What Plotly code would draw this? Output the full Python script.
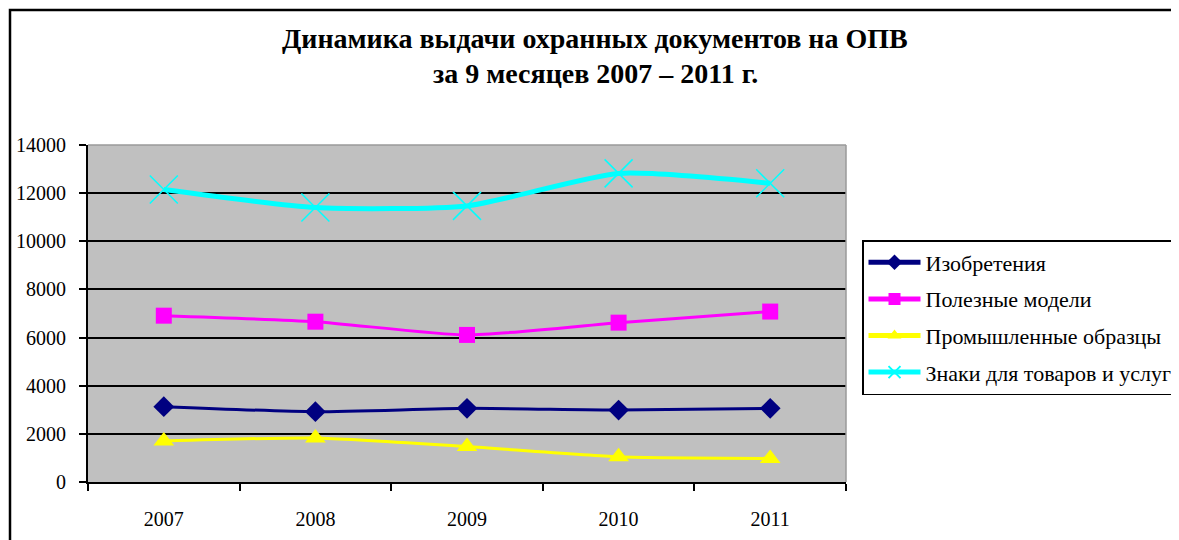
import plotly.graph_objects as go

years = ["2007", "2008", "2009", "2010", "2011"]
inventions = [3130, 2920, 3060, 2990, 3060]
utility_models = [6910, 6660, 6110, 6620, 7080]
industrial_designs = [1700, 1830, 1470, 1050, 980]
trademarks = [12150, 11400, 11470, 12820, 12410]

series_names = ["Изобретения", "Полезные модели", "Промышленные образцы", "Знаки для товаров и услуг"]
y_ticks = [0, 2000, 4000, 6000, 8000, 10000, 12000, 14000]

SERIF = "Liberation Serif, Times New Roman, serif"

fig = go.Figure()
fig.add_trace(go.Scatter(x=years, y=inventions, name=series_names[0], mode="lines+markers", legendgroup="g1",
                         line=dict(color="#000080", width=3, shape="spline", smoothing=0.6),
                         marker=dict(symbol="diamond", size=16, color="#000080")))
fig.add_trace(go.Scatter(x=years, y=utility_models, name=series_names[1], mode="lines+markers", legendgroup="g2",
                         line=dict(color="#FF00FF", width=3, shape="spline", smoothing=0.6),
                         marker=dict(symbol="square", size=16, color="#FF00FF")))
fig.add_trace(go.Scatter(x=years, y=industrial_designs, name=series_names[2], mode="lines+markers", legendgroup="g3",
                         line=dict(color="#FFFF00", width=3, shape="spline", smoothing=0.6),
                         marker=dict(symbol="triangle-up", size=18, color="#FFFF00")))
fig.add_trace(go.Scatter(x=years, y=trademarks, name=series_names[3], mode="lines+markers", legendgroup="g4",
                         line=dict(color="#00FFFF", width=5, shape="spline", smoothing=0.6),
                         marker=dict(symbol="x-thin-open", size=28, color="#00FFFF",
                                     line=dict(color="#00FFFF", width=1.5))))

# page body has an 8px margin, so work in page pixels minus 8
OFF = 8
W, H = 1179 - OFF, 540 - OFF
L, R, T, B = 88 - OFF, 846 - OFF, 145 - OFF, 482 - OFF
pw, ph = R - L, B - T

def px_x(x):
    return (x - OFF - L) / pw

def px_y(y):
    return (B - (y - OFF)) / ph

fig.update_layout(
    width=W, height=H,
    margin=dict(l=L, r=W - R, t=T, b=H - B, pad=0, autoexpand=False),
    paper_bgcolor="white",
    plot_bgcolor="#C0C0C0",
    font=dict(family=SERIF, size=20, color="black"),
    showlegend=True,
    legend=dict(x=px_x(862), y=px_y(240), xanchor="left", yanchor="top",
                bordercolor="black", borderwidth=1.5, bgcolor="white",
                font=dict(family=SERIF, size=22, color="black"),
                tracegroupgap=5, itemsizing="constant", itemwidth=52),
    xaxis=dict(type="category", showgrid=False, showline=True, linecolor="black", linewidth=2,
               ticks="outside", ticklen=7, tickwidth=1.5, tickcolor="black", tickson="boundaries",
               ticklabelstandoff=18, tickfont=dict(family=SERIF, size=20), zeroline=False,
               mirror=False, range=[-0.5, 4.5], automargin=False),
    yaxis=dict(range=[0, 14000], tickvals=y_ticks, ticktext=[str(v) for v in y_ticks],
               showgrid=True, gridcolor="black", gridwidth=1.5, showline=True, linecolor="black",
               linewidth=2, ticks="outside", ticklen=7, tickwidth=1.5, tickcolor="black",
               ticklabelstandoff=9, tickfont=dict(family=SERIF, size=20), zeroline=False,
               automargin=False),
    annotations=[
        dict(text="<b>Динамика выдачи охранных документов на ОПВ</b>", x=px_x(595), y=px_y(38),
             xref="paper", yref="paper", showarrow=False, xanchor="center", yanchor="middle",
             font=dict(family=SERIF, size=28, color="black")),
        dict(text="<b>за 9 месяцев 2007 – 2011 г.</b>", x=px_x(595), y=px_y(74),
             xref="paper", yref="paper", showarrow=False, xanchor="center", yanchor="middle",
             font=dict(family=SERIF, size=28, color="black")),
    ],
    shapes=[
        dict(type="rect", xref="paper", yref="paper", x0=px_x(10), y0=px_y(580), x1=px_x(1220), y1=px_y(10),
             line=dict(color="black", width=2.5), fillcolor="rgba(0,0,0,0)", layer="below"),
        dict(type="line", xref="paper", yref="paper", x0=0, x1=1, y0=1, y1=1,
             line=dict(color="#9a9a9a", width=1.5)),
        dict(type="line", xref="paper", yref="paper", x0=1, x1=1, y0=0, y1=1,
             line=dict(color="#9a9a9a", width=1.5)),
    ],
)

fig.write_html("out.html")
